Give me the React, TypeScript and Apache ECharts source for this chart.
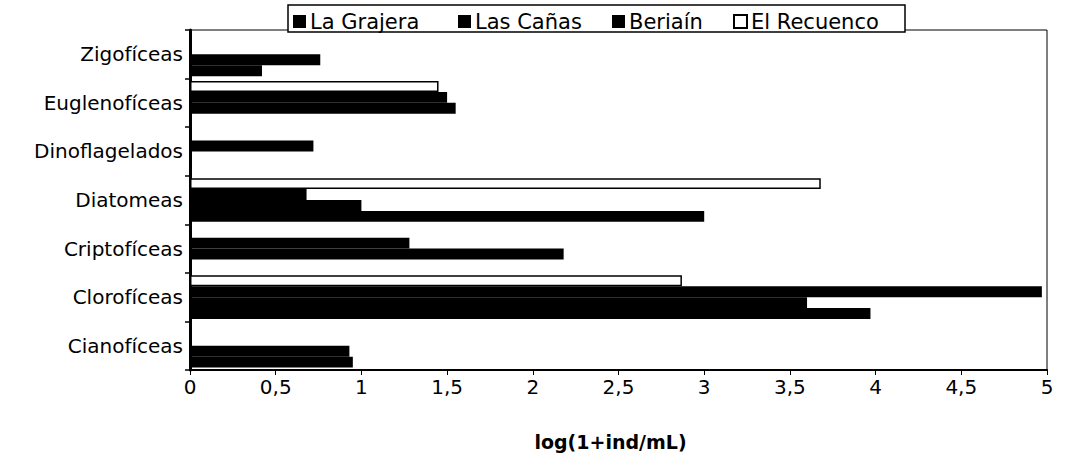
import React, { useEffect, useRef } from "react";
import * as echarts from "echarts";

const categories = [
  "Cianofíceas",
  "Clorofíceas",
  "Criptofíceas",
  "Diatomeas",
  "Dinoflagelados",
  "Euglenofíceas",
  "Zigofíceas",
];
const seriesNames = ["La Grajera", "Las Cañas", "Beriaín", "El Recuenco"];
const laGrajera = [0.95, 3.97, 0, 3.0, 0, 0, 0.42];
const lasCanas = [0.93, 3.6, 2.18, 1.0, 0, 1.55, 0.76];
const beriain = [0, 4.97, 1.28, 0.68, 0.72, 1.5, 0];
const elRecuenco = [0, 2.87, 0, 3.68, 0, 1.45, 0];
const xTicks = ["0", "0,5", "1", "1,5", "2", "2,5", "3", "3,5", "4", "4,5", "5"];
const axisTitle = "log(1+ind/mL)";

const FONT = "DejaVu Sans";
const legendLefts = [293, 458, 612, 733];

export default function App() {
  const ref = useRef<HTMLDivElement>(null);
  useEffect(() => {
    if (!ref.current) return;
    const chart = echarts.init(ref.current, null, { renderer: "svg" });
    const black = { color: "#000" };
    const legends = seriesNames.map((n, i) => ({
      data: [n],
      top: 11,
      left: legendLefts[i],
      icon: "rect",
      itemWidth: 13,
      itemHeight: 13,
      padding: 0,
      textStyle: { fontFamily: FONT, fontSize: 21, color: "#000", padding: [0, 0, 0, -1] },
      z: 6,
    }));
    const option = {
      animation: false,
      backgroundColor: "#fff",
      textStyle: { fontFamily: FONT, color: "#000" },
      legend: legends,
      graphic: [
        {
          type: "rect",
          z: 4,
          shape: { x: 288, y: 5, width: 617, height: 27 },
          style: { fill: "#fff", stroke: "#000", lineWidth: 1.5 },
        },
      ],
      grid: {
        left: 190,
        right: 20,
        top: 30,
        bottom: 92,
        show: true,
        borderColor: "#000",
        borderWidth: 1,
        backgroundColor: "transparent",
      },
      xAxis: {
        type: "value",
        min: 0,
        max: 5,
        interval: 0.5,
        name: axisTitle,
        nameLocation: "middle",
        nameGap: 62,
        nameTextStyle: { fontFamily: FONT, fontSize: 19, fontWeight: "bold", color: "#000", padding: [0, 16, 0, 0] },
        axisLine: { show: true, lineStyle: { color: "#000", width: 2 } },
        axisTick: { show: true, length: 5, lineStyle: { color: "#000" } },
        splitLine: { show: false },
        axisLabel: {
          fontFamily: FONT,
          fontSize: 20,
          color: "#000",
          margin: 7,
          formatter: (v: number) => xTicks[Math.round(v * 2)] ?? String(v),
        },
      },
      yAxis: {
        type: "category",
        data: categories,
        axisLine: { show: true, lineStyle: { color: "#000", width: 3 } },
        axisTick: { show: true, length: 5, lineStyle: { color: "#000", width: 1.5 } },
        axisLabel: { fontFamily: FONT, fontSize: 20, color: "#000", margin: 7 },
      },
      series: [
        {
          name: "El Recuenco",
          type: "bar",
          data: elRecuenco,
          barGap: "0%",
          barCategoryGap: "10%",
          itemStyle: { color: "#fff", borderColor: "#000", borderWidth: 1.5 },
        },
        { name: "Beriaín", type: "bar", data: beriain, barGap: "0%", barCategoryGap: "10%", itemStyle: black },
        { name: "Las Cañas", type: "bar", data: lasCanas, barGap: "0%", barCategoryGap: "10%", itemStyle: black },
        { name: "La Grajera", type: "bar", data: laGrajera, barGap: "0%", barCategoryGap: "10%", itemStyle: black },
      ],
    };
    chart.setOption(option as any);
    return () => chart.dispose();
  }, []);
  return (
    <div
      ref={ref}
      style={{ position: "absolute", left: 0, top: 0, width: 1067, height: 462 }}
    />
  );
}
